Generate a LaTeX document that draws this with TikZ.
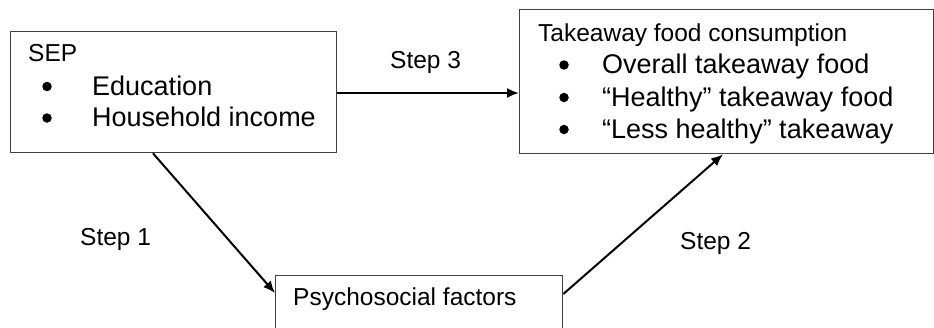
\documentclass[tikz,border=0pt]{standalone}
\usepackage{fontspec}
\setmainfont{Liberation Sans}
\usetikzlibrary{arrows.meta,calc}

\definecolor{boxline}{HTML}{404040}

\tikzset{
  box/.style={draw=boxline, line width=1.3pt, anchor=north west, inner sep=0pt},
  head/.style={anchor=base west, inner sep=0pt, font=\fontsize{24.5}{29}\selectfont},
  item/.style={anchor=base west, inner sep=0pt, font=\fontsize{27}{32}\selectfont},
  dot/.style={circle, fill=black, inner sep=0pt, minimum size=9.5pt},
  steplabel/.style={anchor=base west, inner sep=0pt, font=\fontsize{24.5}{29}\selectfont},
  link/.style={line width=2pt, -{Latex[length=12pt,width=10pt]}}
}

\begin{document}
\begin{tikzpicture}[x=1pt,y=-1pt]
  \useasboundingbox (0,0) rectangle (934,327);
  \clip (0,0) rectangle (934,327);
  \fill[white] (0,0) rectangle (934,327);

  % boxes
  \node[box, minimum width=326pt, minimum height=121pt] (sep) at (10,31) {};
  \node[box, minimum width=414pt, minimum height=144pt] (take) at (519,9) {};
  \node[box, minimum width=287pt, minimum height=70pt] (psy) at (275,275) {};

  % socioeconomic position box
  \node[head] (sept) at (28,61.5) {SEP};
  \node[dot] (sb1) at (47,86.5) {};
  \node[item] (se1) at (92,95) {Education};
  \node[dot] (sb2) at (47,118) {};
  \node[item] (se2) at (92,126.5) {Household income};

  % outcome box
  \node[head] (taket) at (538,41.5) {Takeaway food consumption};
  \node[dot] (tb1) at (564,65) {};
  \node[item] (te1) at (602,73.5) {Overall takeaway food};
  \node[dot] (tb2) at (564,97.5) {};
  \node[item] (te2) at (602,106) {“Healthy” takeaway food};
  \node[dot] (tb3) at (564,129.5) {};
  \node[item] (te3) at (602,138) {“Less healthy” takeaway};

  % mediator box
  \node[head] (psyt) at (293,305) {Psychosocial factors};

  % step labels
  \node[steplabel] (s3) at (390,68.5) {Step 3};
  \node[steplabel] (s1) at (80,245.5) {Step 1};
  \node[steplabel] (s2) at (680,249.5) {Step 2};

  % connectors
  \coordinate (a3) at ($(sep.north east)+(0,62)$);
  \draw[link] (a3) -- (a3 -| take.west);
  \draw[link] ($(sep.south west)+(143,0)$) -- ($(psy.north west)+(0,18)$);
  \draw[link] ($(psy.north east)+(0,19)$) -- ($(take.south west)+(204,0)$);
\end{tikzpicture}
\end{document}
